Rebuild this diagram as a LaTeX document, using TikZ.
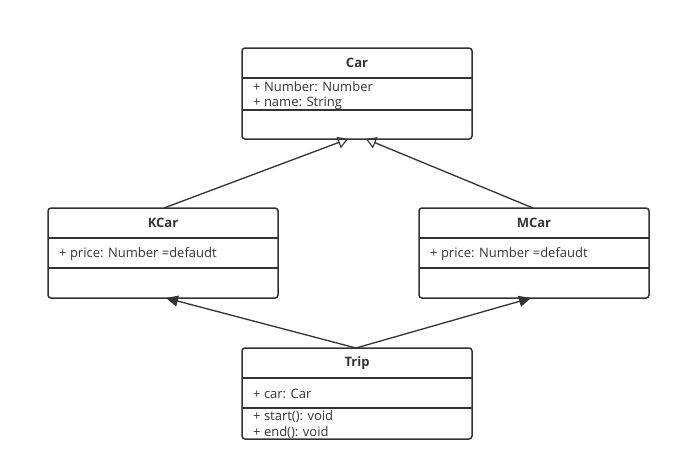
\documentclass[tikz,border=0pt]{standalone}
\usepackage{fontspec}
\setmainfont{Open Sans}
\usetikzlibrary{arrows.meta}
\definecolor{ln}{HTML}{333333}
\tikzset{
  box/.style={draw=ln, line width=1.5pt, rounded corners=3pt},
  sep/.style={draw=ln, line width=1.5pt},
  ttl/.style={font=\fontsize{13}{15}\selectfont\bfseries, text=ln},
  attr/.style={font=\fontsize{13}{15}\selectfont, text=ln, anchor=west, inner sep=0pt},
  inh/.style={draw=ln, line width=1.3pt, -{Triangle[open, length=10pt, width=12pt, line width=1.1pt]}},
  assoc/.style={draw=ln, line width=1.3pt, -{Triangle[length=12pt, width=11pt]}},
}
\begin{document}
\begin{tikzpicture}[x=1pt,y=-1pt]
\useasboundingbox (0,0) rectangle (681,472);
% Car
\draw[box] (242,48) rectangle (472,139);
\node[ttl] (carT) at (357,63) {Car};
\draw[sep] (242,78) -- (472,78);
\draw[sep] (242,110) -- (472,110);
\node[attr] (carA1) at (253,87) {+ Number: Number};
\node[attr] (carA2) at (253,103) {+ name: String};
\coordinate (carL) at (348,139);
\coordinate (carR) at (366,139);
% KCar
\draw[box] (48,208) rectangle (278,298);
\node[ttl] (kT) at (163,223) {KCar};
\draw[sep] (48,238) -- (278,238);
\draw[sep] (48,268) -- (278,268);
\node[attr] (kA1) at (59,254) {+ price: Number =defaudt};
\coordinate (kTop) at (164,208);
\coordinate (kBot) at (166,298);
% MCar
\draw[box] (419,208) rectangle (649,298);
\node[ttl] (mT) at (534,223) {MCar};
\draw[sep] (419,238) -- (649,238);
\draw[sep] (419,268) -- (649,268);
\node[attr] (mA1) at (430,254) {+ price: Number =defaudt};
\coordinate (mTop) at (533,208);
\coordinate (mBot) at (531,298);
% Trip
\draw[box] (242,348) rectangle (472,439);
\node[ttl] (tT) at (357,363) {Trip};
\draw[sep] (242,378) -- (472,378);
\draw[sep] (242,408) -- (472,408);
\node[attr] (tA1) at (253,394) {+ car: Car};
\node[attr] (tM1) at (253,417) {+ start(): void};
\node[attr] (tM2) at (253,433) {+ end(): void};
\coordinate (tTop) at (356,348);
% connectors
\draw[inh] (kTop) -- (carL);
\draw[inh] (mTop) -- (carR);
\draw[assoc] (tTop) -- (kBot);
\draw[assoc] (tTop) -- (mBot);
\end{tikzpicture}
\end{document}
